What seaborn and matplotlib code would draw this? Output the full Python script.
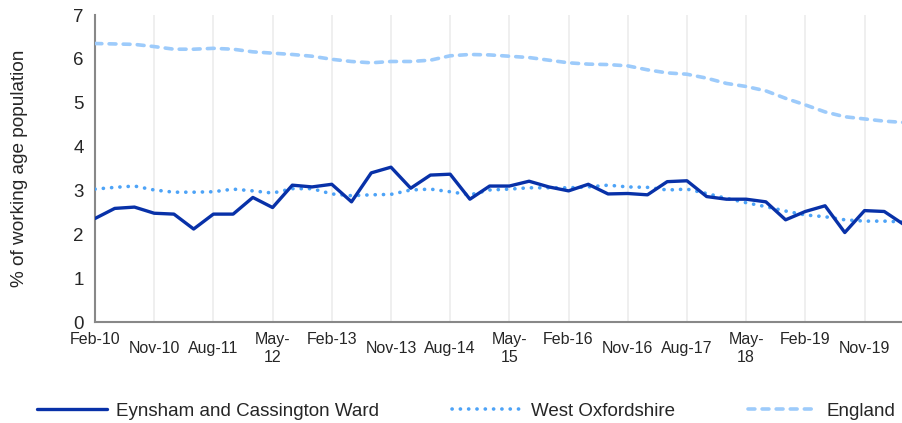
import numpy as np
import pandas as pd
import matplotlib
matplotlib.use("Agg")
import matplotlib.pyplot as plt
import seaborn as sns

# Quarterly claimant rates, Feb-10 .. May-20
quarters = ["Feb-10", "May-10", "Aug-10", "Nov-10", "Feb-11", "May-11", "Aug-11", "Nov-11",
            "Feb-12", "May-12", "Aug-12", "Nov-12", "Feb-13", "May-13", "Aug-13", "Nov-13",
            "Feb-14", "May-14", "Aug-14", "Nov-14", "Feb-15", "May-15", "Aug-15", "Nov-15",
            "Feb-16", "May-16", "Aug-16", "Nov-16", "Feb-17", "May-17", "Aug-17", "Nov-17",
            "Feb-18", "May-18", "Aug-18", "Nov-18", "Feb-19", "May-19", "Aug-19", "Nov-19",
            "Feb-20", "May-20"]

eynsham = [2.36, 2.59, 2.62, 2.48, 2.46, 2.12, 2.46, 2.46, 2.84, 2.61, 3.12, 3.08,
           3.14, 2.74, 3.40, 3.53, 3.05, 3.35, 3.37, 2.80, 3.10, 3.10, 3.21, 3.08,
           2.99, 3.14, 2.92, 2.93, 2.90, 3.20, 3.22, 2.86, 2.80, 2.80, 2.74, 2.33,
           2.52, 2.65, 2.04, 2.54, 2.52, 2.22]

west_oxon = [3.03, 3.07, 3.10, 3.01, 2.96, 2.96, 2.97, 3.03, 2.99, 2.94, 3.04, 3.04,
             2.92, 2.88, 2.90, 2.91, 3.01, 3.03, 2.97, 2.90, 3.01, 3.03, 3.06, 3.06,
             3.06, 3.08, 3.12, 3.08, 3.07, 3.01, 3.03, 2.93, 2.82, 2.72, 2.63, 2.53,
             2.44, 2.40, 2.33, 2.30, 2.30, 2.28]

england = [6.35, 6.34, 6.33, 6.28, 6.22, 6.22, 6.24, 6.22, 6.16, 6.13, 6.10, 6.06,
           5.99, 5.94, 5.91, 5.94, 5.94, 5.97, 6.07, 6.10, 6.09, 6.06, 6.03, 5.97,
           5.91, 5.88, 5.87, 5.84, 5.75, 5.68, 5.65, 5.56, 5.44, 5.37, 5.27, 5.10,
           4.95, 4.79, 4.68, 4.63, 4.58, 4.55]

# x tick labels every third quarter
tick_labels = ["Feb-10", "Nov-10", "Aug-11", "May-\n12", "Feb-13", "Nov-13", "Aug-14",
               "May-\n15", "Feb-16", "Nov-16", "Aug-17", "May-\n18", "Feb-19", "Nov-19"]

df = pd.DataFrame({"q": np.arange(len(quarters)), "quarter": quarters,
                   "eynsham": eynsham, "west_oxon": west_oxon, "england": england})

sns.set_style("white")
plt.rcParams["font.family"] = ["Liberation Sans", "DejaVu Sans"]

fig = plt.figure(figsize=(9.03, 4.23), dpi=100)
ax = fig.add_axes([95 / 903, 101 / 423, 808 / 903, 307 / 423])

sns.lineplot(data=df, x="q", y="eynsham", ax=ax, color="#0831A8", linewidth=2.4,
             label="Eynsham and Cassington Ward", solid_capstyle="round", zorder=4)
sns.lineplot(data=df, x="q", y="west_oxon", ax=ax, color="#4DA3F7", linewidth=2.6,
             linestyle=(0, (0.05, 2.25)), dash_capstyle="round",
             label="West Oxfordshire", zorder=3)
sns.lineplot(data=df, x="q", y="england", ax=ax, color="#9DCBFB", linewidth=2.6,
             linestyle=(0, (1.9, 2.0)), dash_capstyle="round",
             label="England", zorder=3)

ax.set_xlim(0, 40.95)
ax.set_ylim(0, 7)
ax.set_yticks(range(0, 8))
ax.set_xticks(np.arange(0, len(tick_labels) * 3, 3))
ax.set_xticklabels(tick_labels, fontsize=11.5, linespacing=1.25)
ax.tick_params(axis="y", labelsize=13.5, length=4, width=1.2, color="#888888", pad=4)
ax.tick_params(axis="x", length=4, width=1.2, color="#888888", pad=3)

# Excel-style label staggering: Nov/Aug labels sit half a line lower
for i, tick in enumerate(ax.xaxis.get_major_ticks()):
    if not (tick_labels[i].startswith("Feb") or tick_labels[i].startswith("May")):
        tick.set_pad(9.5)

ax.grid(axis="x", color="#EEEEEE", linewidth=1.3)
ax.grid(axis="y", visible=False)
for side in ["top", "right"]:
    ax.spines[side].set_visible(False)
for side in ["left", "bottom"]:
    ax.spines[side].set_color("#888888")
    ax.spines[side].set_linewidth(1.5)

ax.set_xlabel("")
ax.set_ylabel("% of working age population", fontsize=13.7)
ax.yaxis.set_label_coords(-0.083, 0.5)

ax.get_legend().remove()
handles, labels = ax.get_legend_handles_labels()
fig.legend(handles, labels, ncol=3, loc="center left", bbox_to_anchor=(37 / 903, 12 / 423),
           frameon=False, fontsize=13.5, handlelength=3.75, handletextpad=0.45,
           columnspacing=3.9, borderpad=0, borderaxespad=0)

fig.savefig("out.png", dpi=100)
